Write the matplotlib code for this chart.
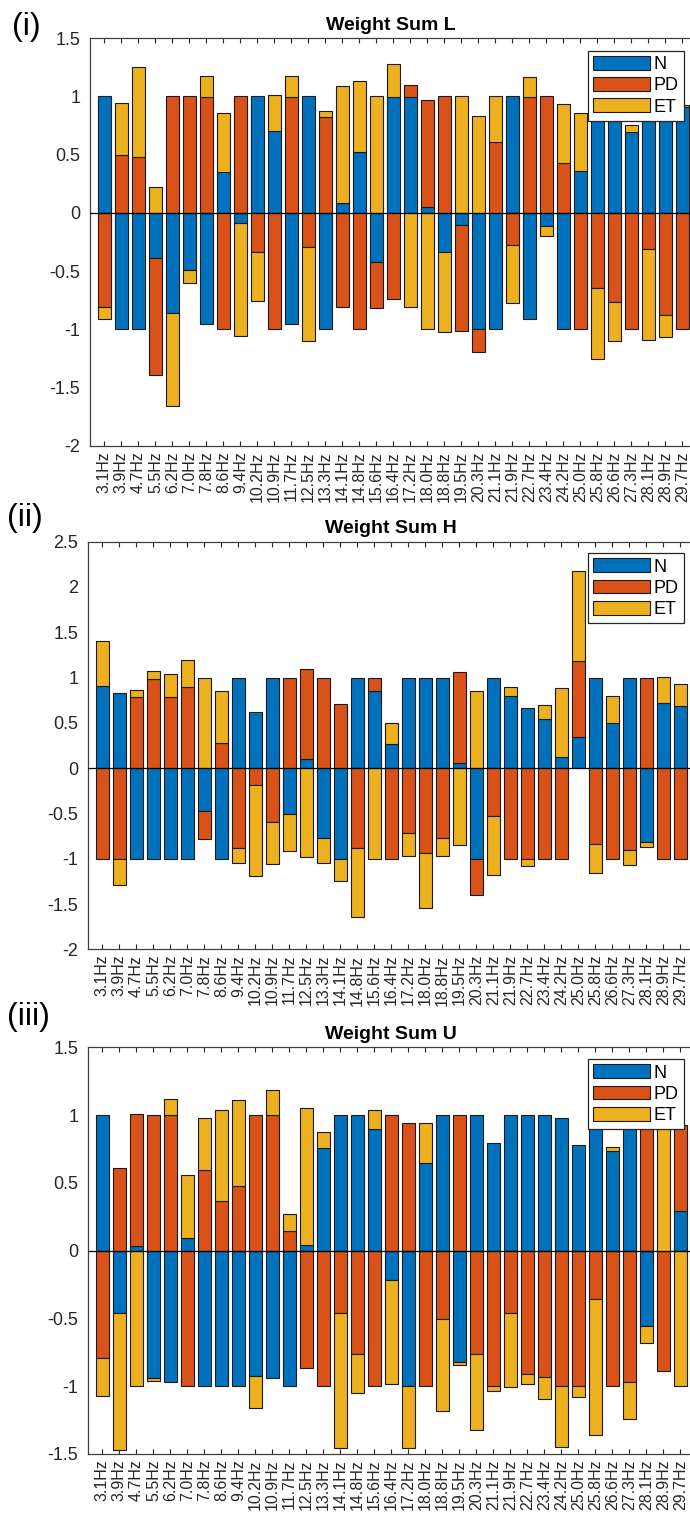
import numpy as np
import matplotlib
matplotlib.use('Agg')
import matplotlib.pyplot as plt

plt.rcParams['font.family'] = ['Liberation Sans', 'DejaVu Sans']

freqs = ['3.1Hz', '3.9Hz', '4.7Hz', '5.5Hz', '6.2Hz', '7.0Hz', '7.8Hz', '8.6Hz', '9.4Hz',
         '10.2Hz', '10.9Hz', '11.7Hz', '12.5Hz', '13.3Hz', '14.1Hz', '14.8Hz', '15.6Hz',
         '16.4Hz', '17.2Hz', '18.0Hz', '18.8Hz', '19.5Hz', '20.3Hz', '21.1Hz', '21.9Hz',
         '22.7Hz', '23.4Hz', '24.2Hz', '25.0Hz', '25.8Hz', '26.6Hz', '27.3Hz', '28.1Hz',
         '28.9Hz', '29.7Hz']

# Weight Sum L
L_N = [1, -1, -1, -0.39, -0.86, -0.49, -0.957, 0.35, -0.09, 1, 0.7, -0.957,
       1, -1, 0.089, 0.523, -0.42, 1, 1, 0.05, -0.337, -0.106, -1, -1,
       1, -0.911, -0.114, -1, 0.36, 1, 1, 0.697, 1, 1, 0.906]
L_PD = [-0.806, 0.5, 0.477, -1.0, 1, 1, 1, -1, 1, -0.334, -1, 1,
        -0.294, 0.82, -0.809, -1, -0.397, -0.743, 0.1, 0.92, 1, -0.908, -0.194, 0.606,
        -0.28, 1, 1, 0.426, -1, -0.646, -0.766, -1, -0.311, -0.88, -1]
L_ET = [-0.103, 0.443, 0.78, 0.223, -0.80, -0.11, 0.18, 0.51, -0.97, -0.426, 0.31, 0.18,
        -0.806, 0.057, 1.0, 0.606, 1, 0.28, -0.81, -1, -0.686, 1, 0.834, 0.4,
        -0.49, 0.171, -0.083, 0.508, 0.5, -0.608, -0.334, 0.054, -0.78, -0.19, 0.017]

# Weight Sum H
H_N = [0.906, 0.833, -1, -1, -1, -1, -0.477, -1, 1, 0.624, 1, -0.506,
       0.1, -0.771, -1, 1, 0.848, 0.264, 1, 1, 1, 0.062, -1, 1,
       0.8, 0.664, 0.539, 0.125, 0.349, 1, 0.495, 1, -0.811, 0.716, 0.686]
H_PD = [-1, -1, 0.782, 0.98, 0.789, 0.895, -0.3, 0.275, -0.884, -0.187, -0.59, 1,
        0.994, 1, 0.708, -0.884, 0.152, -1, -0.716, -0.936, -0.771, 1.002, -0.4, -0.525,
        -1, -1, -1, -1, 0.829, -0.837, -1, -0.903, 1, -1, -1]
H_ET = [0.503, -0.292, 0.08, 0.095, 0.246, 0.294, 1, 0.58, -0.166, -1.0, -0.47, -0.404,
        -0.98, -0.279, -0.251, -0.756, -1, 0.231, -0.249, -0.609, -0.194, -0.848, 0.855, -0.66,
        0.095, -0.083, 0.158, 0.759, 1.002, -0.319, 0.305, -0.165, -0.059, 0.293, 0.242]

# Weight Sum U
U_N = [1, -0.462, 0.037, -0.942, -0.969, 0.091, -1, -1, -1, -0.925, -0.942, -1,
       0.042, 0.755, 1, 1, 0.895, -0.216, -1, 0.649, 1, -0.819, 1, 0.797,
       1, 1, 1, 0.981, 0.777, 0.895, 0.735, 1, -0.556, 0, 0.29]
U_PD = [-0.794, 0.612, 0.973, 1, 1, -1, 0.593, 0.366, 0.479, 1, 1, 0.148,
        -0.868, -1, -0.46, -0.762, -1, 1, 0.939, -1, -0.507, 1, -0.762, -1.0,
        -0.462, -0.91, -0.934, -1, -1, -0.359, -1, -0.971, 1, -0.888, 0.639]
U_ET = [-0.276, -1.008, -1, -0.017, 0.116, 0.465, 0.388, 0.672, 0.63, -0.233, 0.188, 0.12,
        1.008, 0.12, -0.998, -0.29, 0.143, -0.77, -0.458, 0.295, -0.676, -0.024, -0.561, -0.037,
        -0.541, -0.07, -0.158, -0.446, -0.079, -1.003, 0.032, -0.273, -0.127, 1, -1]

series_names = ['N', 'PD', 'ET']
colors = ['#0072BD', '#D95319', '#EDB120']

W, H = 690, 1513
fig = plt.figure(figsize=(W / 100, H / 100), dpi=100)


def px_axes(left, top, right, bottom):
    return fig.add_axes([left / W, 1 - bottom / H, (right - left) / W, (bottom - top) / H])


def stacked(ax, data):
    x = np.arange(len(freqs))
    pos = np.zeros(len(freqs))
    neg = np.zeros(len(freqs))
    for vals, name, c in zip(data, series_names, colors):
        v = np.array(vals, dtype=float)
        bottom = np.where(v >= 0, pos, neg)
        ax.bar(x, v, 0.8, bottom=bottom, color=c, edgecolor='#1a1a1a',
               linewidth=0.8, label=name, zorder=2)
        pos = pos + np.clip(v, 0, None)
        neg = neg + np.clip(v, None, 0)
    ax.axhline(0, color='k', lw=0.9, zorder=3)


panels = [
    dict(data=(L_N, L_PD, L_ET), title='Weight Sum L', tag='(i)', ylim=(-2, 1.5),
         yticks=[-2, -1.5, -1, -0.5, 0, 0.5, 1, 1.5],
         box=(90, 38.3, 702, 445.7), title_y=30, tag_xy=(12, 35), leg_top=50.7),
    dict(data=(H_N, H_PD, H_ET), title='Weight Sum H', tag='(ii)', ylim=(-2, 2.5),
         yticks=[-2, -1.5, -1, -0.5, 0, 0.5, 1, 1.5, 2, 2.5],
         box=(88, 541.7, 700, 949.3), title_y=533, tag_xy=(7, 526), leg_top=553),
    dict(data=(U_N, U_PD, U_ET), title='Weight Sum U', tag='(iii)', ylim=(-1.5, 1.5),
         yticks=[-1.5, -1, -0.5, 0, 0.5, 1, 1.5],
         box=(88, 1047.3, 700, 1454), title_y=1039, tag_xy=(7, 1025), leg_top=1059),
]

for p in panels:
    l, t, r, b = p['box']
    ax = px_axes(l, t, r, b)
    stacked(ax, p['data'])
    ax.set_xlim(-0.85, 35.15)
    ax.set_ylim(*p['ylim'])
    ax.set_yticks(p['yticks'])
    ax.set_yticklabels(['%g' % v for v in p['yticks']])
    ax.set_xticks(np.arange(len(freqs)))
    ax.set_xticklabels(freqs, rotation=90)
    ax.tick_params(axis='x', direction='in', length=3.5, width=0.8, top=True,
                   labelsize=11.5, pad=4, colors='#262626')
    ax.tick_params(axis='y', direction='in', length=0, labelsize=13, pad=7,
                   colors='#262626')
    for s in ax.spines.values():
        s.set_color('#404040')
        s.set_linewidth(0.9)
    ax.spines['right'].set_visible(False)

    fig.text(391 / W, 1 - p['title_y'] / H, p['title'], ha='center', va='baseline',
             fontsize=14, fontweight='bold')
    fig.text(p['tag_xy'][0] / W, 1 - p['tag_xy'][1] / H, p['tag'], ha='left',
             va='baseline', fontsize=23)

    leg = ax.legend(loc='upper right', bbox_to_anchor=(684 / W, 1 - p['leg_top'] / H),
                    bbox_transform=fig.transFigure, fontsize=13, fancybox=False,
                    framealpha=1, edgecolor='#262626', handlelength=3.15,
                    handleheight=0.8, handletextpad=0.2, labelspacing=0.22,
                    borderpad=0.3, borderaxespad=0)
    leg.get_frame().set_linewidth(0.9)
    leg.set_zorder(5)

fig.savefig('out.png', dpi=100)
